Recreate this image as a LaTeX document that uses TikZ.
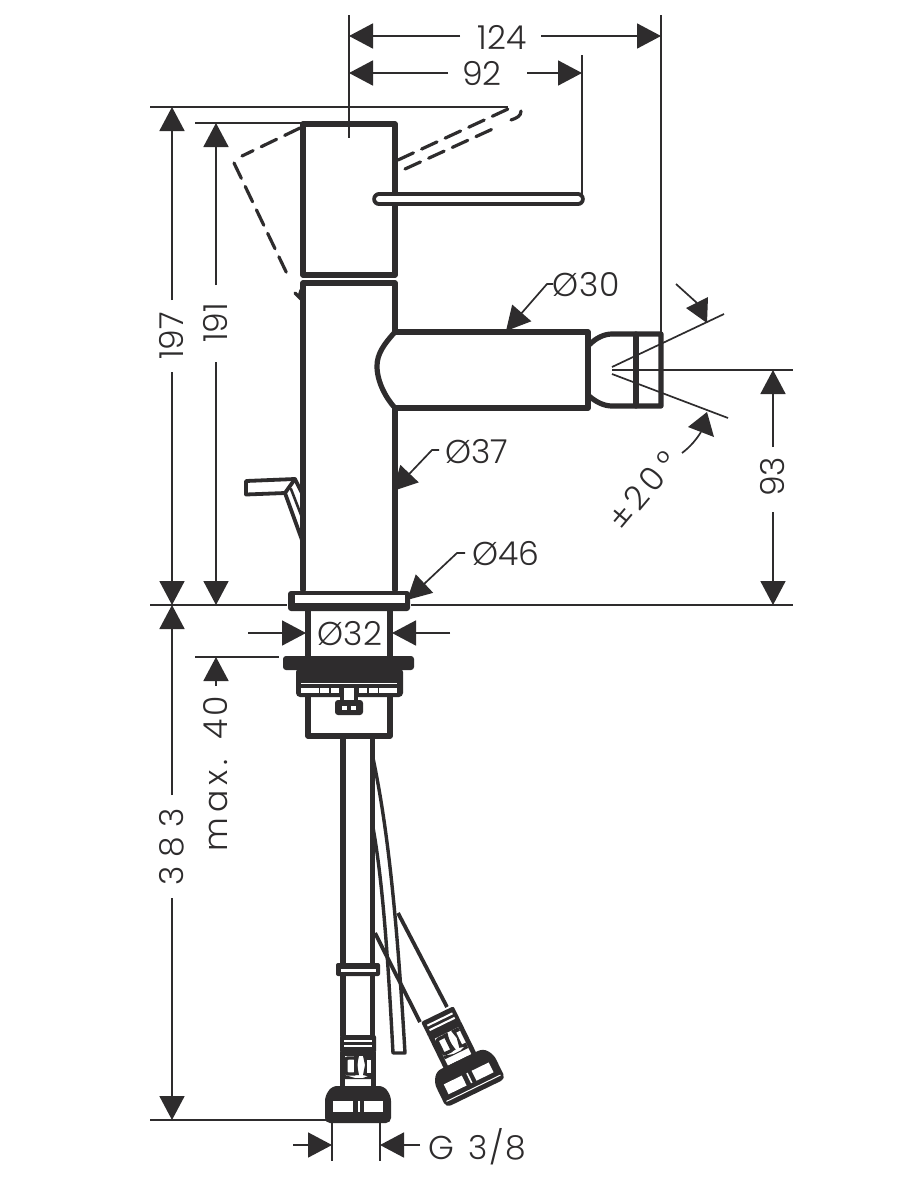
\documentclass[tikz,border=0pt]{standalone}
\usepackage{fontspec}
\setmainfont{Poppins Light}[Ligatures=TeXReset]
\usetikzlibrary{arrows.meta}
\definecolor{ink}{HTML}{2E2C2D}
\tikzset{
  dimline/.style={draw=ink,line width=1.7pt},
  dimarrow/.style={dimline,-{Triangle[length=24pt,width=25pt,fill=ink]}},
  heavy/.style={draw=ink,line width=5.2pt,line join=round,line cap=round},
  medium/.style={draw=ink,line width=3.8pt,line join=round,line cap=round},
  dashedpart/.style={draw=ink,line width=3.2pt,dash pattern=on 17pt off 9pt,line cap=round},
  dimtext/.style={font=\fontsize{33}{33}\selectfont,text=ink,inner sep=0pt},
}
\newcommand{\hoseconnector}{%
  % neck
  \fill[ink,rounded corners=2pt] (-18,-70) rectangle (18,-52);
  \fill[white] (-14,-65) rectangle (14,-63);
  \fill[white] (-14,-60) rectangle (14,-58);
  \fill[ink] (-18,-53) rectangle (18,-15);
  \fill[white] (-13,-49) rectangle (13,-19);
  \draw[ink,line width=3.4pt,rounded corners=2pt] (-12,-47) rectangle (-2,-31);
  \fill[ink] (-4,-49) -- (1,-49) -- (-1,-40) -- (1,-30) -- (-4,-30) -- cycle;
  \fill[ink] (5,-49) -- (13,-49) -- (13,-28) -- (5,-30) -- (7,-40) -- cycle;
  \fill[white] (9,-45) rectangle (13,-32);
  \fill[ink] (-13,-30) -- (-3,-27) -- (5,-27) -- (13,-30) -- (13,-26) -- (-13,-26) -- cycle;
  % nut
  \fill[ink,rounded corners=5pt] (-26,-19) -- (26,-19) -- (33,-9) -- (33,18) -- (-33,18) -- (-33,-9) -- cycle;
  \fill[white] (-25,-4) rectangle (-5,7);
  \fill[white] (6,-4) rectangle (25,7);
  \fill[white] (0,-4) rectangle (1.6,7);
}
\begin{document}
\begin{tikzpicture}[x=1pt,y=-1pt]
\useasboundingbox (0,0) rectangle (900,1200);
\fill[white] (0,0) rectangle (900,1200);

% ---------- extension lines
\draw[dimline] (349,15) -- (349,138);
\draw[dimline] (661,15) -- (661,334);
\draw[dimline] (582,55) -- (582,194);
\draw[dimline] (150,107) -- (508,107);
\draw[dimline] (195,123) -- (303,123);
\draw[dimline] (150,605) -- (287,605);
\draw[dimline] (411,605) -- (793,605);
\draw[dimline] (195,657) -- (279,657);
\draw[dimline] (150,1120) -- (326,1120);
\draw[dimline] (332,1122) -- (332,1161);
\draw[dimline] (380,1122) -- (380,1161);
\draw[dimline] (612,370) -- (793,370);
\draw[dimline] (612,367) -- (724,314);
\draw[dimline] (612,374) -- (728,418);

% ---------- 124
\node[dimtext] (t124) at (502,37) {124};
\coordinate (a124l) at (349,36); \coordinate (a124r) at (661,36);
\coordinate (b124l) at (460,36); \coordinate (b124r) at (541,36);
\draw[dimarrow] (b124l) -- (a124l);
\draw[dimarrow] (b124r) -- (a124r);
% ---------- 92
\node[dimtext] (t92) at (482,74) {92};
\coordinate (a92l) at (349,73); \coordinate (a92r) at (582,73);
\coordinate (b92l) at (448,73); \coordinate (b92r) at (527,73);
\draw[dimarrow] (b92l) -- (a92l);
\draw[dimarrow] (b92r) -- (a92r);
% ---------- 197
\node[dimtext,rotate=90] (t197) at (172,336) {197};
\coordinate (a197t) at (172,107); \coordinate (a197b) at (172,605);
\coordinate (b197t) at (172,300); \coordinate (b197b) at (172,372);
\draw[dimarrow] (b197t) -- (a197t);
\draw[dimarrow] (b197b) -- (a197b);
% ---------- 191
\node[dimtext,rotate=90] (t191) at (216,323) {191};
\coordinate (a191t) at (216,123); \coordinate (a191b) at (216,605);
\coordinate (b191t) at (216,285); \coordinate (b191b) at (216,362);
\draw[dimarrow] (b191t) -- (a191t);
\draw[dimarrow] (b191b) -- (a191b);
% ---------- 383
\node[dimtext,rotate=90] (t383) at (172,847) {3 8 3};
\coordinate (a383t) at (172,605); \coordinate (a383b) at (172,1120);
\coordinate (b383t) at (172,795); \coordinate (b383b) at (172,898);
\draw[dimarrow] (b383t) -- (a383t);
\draw[dimarrow] (b383b) -- (a383b);
% ---------- max. 40
\node[dimtext,rotate=90] (tmax) at (216,774) {m\hspace{5pt}a\hspace{5pt}x\hspace{5pt}.\hspace{20pt}4\hspace{2pt}0};
\coordinate (amax) at (216,657); \coordinate (bmax) at (216,686);
\draw[dimarrow] (bmax) -- (amax);
% ---------- 93
\node[dimtext,rotate=90] (t93) at (773,477) {93};
\coordinate (a93t) at (773,370); \coordinate (a93b) at (773,605);
\coordinate (b93t) at (773,447); \coordinate (b93b) at (773,512);
\draw[dimarrow] (b93t) -- (a93t);
\draw[dimarrow] (b93b) -- (a93b);
% ---------- diameters
\node[dimtext,anchor=west] (t30) at (552,285) {Ø\hspace{1pt}3\hspace{1pt}0};
\coordinate (l30) at (553,284); \coordinate (k30) at (547,284); \coordinate (a30) at (506,331);
\draw[dimarrow] (l30) -- (k30) -- (a30);
\node[dimtext,anchor=west] (t37) at (445,452) {Ø37};
\coordinate (l37) at (439,450); \coordinate (k37) at (432,450); \coordinate (a37) at (393,491);
\draw[dimarrow] (l37) -- (k37) -- (a37);
\node[dimtext,anchor=west] (t46) at (472,554) {Ø46};
\coordinate (l46) at (465,553); \coordinate (k46) at (457,553); \coordinate (a46) at (407,600);
\draw[dimarrow] (l46) -- (k46) -- (a46);
% Ø32
\node[dimtext] (t32) at (350,634) {Ø32};
\coordinate (l32l) at (248,633); \coordinate (a32l) at (306,633);
\coordinate (l32r) at (450,633); \coordinate (a32r) at (392,633);
\draw[dimarrow] (l32l) -- (a32l);
\draw[dimarrow] (l32r) -- (a32r);
% G 3/8
\node[dimtext,anchor=west] (tg) at (428,1147) {G\hspace{5pt} 3\hspace{2pt}/\hspace{2pt}8};
\coordinate (lgl) at (293,1145); \coordinate (agl) at (332,1145);
\coordinate (lgr) at (420,1145); \coordinate (agr) at (380,1145);
\draw[dimarrow] (lgl) -- (agl);
\draw[dimarrow] (lgr) -- (agr);
% ±20°
\node[dimtext,rotate=50] (t20) at (643,490) {±\hspace{4pt}2\hspace{4pt}0\hspace{8pt}°};
\draw[dimline] (676,284) -- (697,303);
\fill[ink] (707,323) -- (686,308) -- (708,297) -- cycle;
\draw[dimline] (682,453) .. controls (690,447) and (696,440) .. (701,432);
\fill[ink] (707,412) -- (688,427) -- (714,437) -- cycle;

% ---------- dashed lever positions
\draw[dashedpart] (300,128) -- (242,156);
\draw[dashedpart] (234,163) -- (290,280);
\draw[dashedpart,dash pattern=on 100pt] (295,293) -- (299,297) -- (301,290);
\draw[dashedpart] (398,160) -- (508,109);
\draw[dashedpart] (405,169) -- (497,127);
\draw[dashedpart,dash pattern=on 100pt] (511,120) .. controls (517,118) and (521,116) .. (521,111);

% ---------- faucet body
\draw[heavy] (303,275) -- (303,124) -- (395,124) -- (395,275) -- cycle;
\draw[heavy] (303,590) -- (303,283) -- (395,283) -- (395,332);
\draw[heavy] (395,408) -- (395,590);
% lever
\draw[draw=ink,line width=13.6pt,line cap=round] (379,199.2) -- (578,199.2);
\draw[draw=white,line width=6pt,line cap=round] (379,199.2) -- (578,199.2);
% spout
\draw[heavy] (395,332) -- (588,332) -- (588,408) -- (395,408);
\draw[heavy] (395,332) .. controls (384,344) and (377,354) .. (377,366) .. controls (377,382) and (386,398) .. (395,408);
% aerator
\draw[heavy] (589,345) .. controls (596,338) and (604,334) .. (612,334) -- (661,334) -- (661,406) -- (612,406) .. controls (604,406) and (596,402) .. (589,396);
\draw[heavy] (636,334) -- (636,406);
% pop-up rod
\draw[medium] (302,540) -- (285,493) -- (246,494.5) -- (246,481) -- (295,479) -- (303,495);
\draw[medium] (285,493) -- (295,479);
\draw[medium,line width=2.6pt] (291,489) -- (303,520);

% ---------- flange
\fill[ink,rounded corners=3pt] (288,591) rectangle (410,611);
\fill[white] (295,595) rectangle (405,603);
% shank
\draw[heavy,line cap=butt] (308,611) -- (308,657);
\draw[heavy,line cap=butt] (390,611) -- (390,657);
% nut
\fill[ink,rounded corners=3pt] (283,656) rectangle (414,670);
\fill[ink,rounded corners=4pt] (296,668) rectangle (403,697);
\fill[white] (301,688) rectangle (319,693);
\fill[white] (320,688) rectangle (329,693);
\fill[white] (331,688) rectangle (339,693);
\fill[white] (359,688) rectangle (367,693);
\fill[white] (369,688) rectangle (378,693);
\fill[white] (379,688) rectangle (397,693);
\draw[white,line width=.5pt] (301,683) -- (397,683);
% lower box
\draw[heavy] (308,697) -- (308,736) -- (390,736) -- (390,697);
% clip
\fill[ink,rounded corners=3pt] (335,700) rectangle (363,715);
\fill[ink] (340,694) rectangle (358,702);
\fill[white] (344,688) rectangle (354,700);
\fill[white] (342,706) rectangle (347,710);
\fill[white] (351,706) rectangle (356,710);

% ---------- hoses
\draw[heavy,line cap=butt] (343,738) -- (343,1036);
\draw[heavy,line cap=butt] (372.5,738) -- (372.5,1036);
\draw[medium,line cap=butt] (375,933) -- (420,1022);
\draw[medium,line cap=butt] (398,913) -- (447,1007);
% flexible sleeve
\draw[draw=ink,line width=3.4pt,line cap=round,line join=round] (373,758) .. controls (386,820) and (396,900) .. (405,1053) -- (393,1053) .. controls (388,960) and (383,880) .. (372,822);
% band
\fill[ink,rounded corners=2pt] (336,963) rectangle (380,976);
\fill[white] (341,968.5) rectangle (376,971.5);
% connectors
\begin{scope}[shift={(358,1105)}]
  \hoseconnector
\end{scope}
\begin{scope}[shift={(468,1077)},rotate=26]
  \hoseconnector
  \fill[white] (-30,12) rectangle (30,13);
\end{scope}
\end{tikzpicture}
\end{document}
